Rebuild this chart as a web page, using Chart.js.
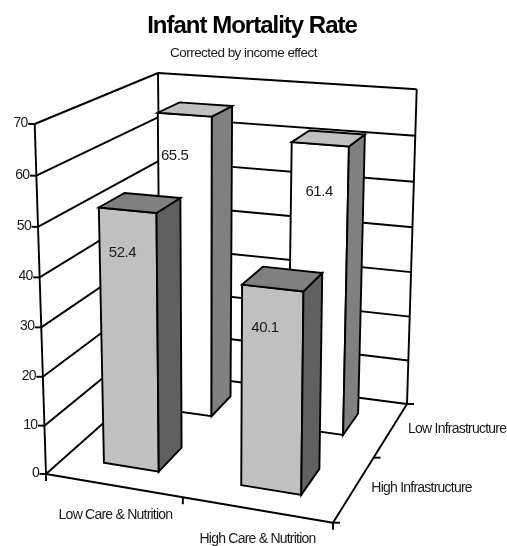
<!DOCTYPE html>
<html><head><meta charset="utf-8">
<style>html,body{margin:0;padding:0;background:#fff}canvas{display:block}</style>
<script src="https://cdn.jsdelivr.net/npm/chart.js@4"></script>
</head><body><canvas id="c" width="507" height="546"></canvas>
<script>
const careCategories = ['Low Care & Nutrition', 'High Care & Nutrition'];
const infraCategories = ['High Infrastructure', 'Low Infrastructure'];
const lowInfrastructure = [65.5, 61.4];
const highInfrastructure = [52.4, 40.1];
const titleText = 'Infant Mortality Rate';
const subtitleText = 'Corrected by income effect';

// view geometry of the 3-D box: floor and ceiling corners (front-left, front-right, back-right, back-left)
const floorCorners = [[46,474],[333,522.7],[407,404],[161,372]];
const ceilCorners  = [[34.7,124],[337.5,147],[416.7,89.3],[158,73]];
const PERSPECTIVE = 0.04;
const FONT = '"Liberation Sans", Arial, sans-serif';

function quad(p){
  const [[x0,y0],[x1,y1],[x2,y2],[x3,y3]] = p;
  const dx1=x1-x2,dx2=x3-x2,sx=x0-x1+x2-x3,dy1=y1-y2,dy2=y3-y2,sy=y0-y1+y2-y3;
  const den=dx1*dy2-dx2*dy1, g=(sx*dy2-dx2*sy)/den, h=(dx1*sy-sx*dy1)/den;
  const a=x1-x0+g*x1,b=x3-x0+h*x3,d=y1-y0+g*y1,e=y3-y0+h*y3;
  return (u,v)=>{const w=g*u+h*v+1;return [(a*u+b*v+x0)/w,(d*u+e*v+y0)/w];};
}
const floorAt=quad(floorCorners), ceilAt=quad(ceilCorners);
function project(u,v,t){
  const s=t/(1+PERSPECTIVE*(1-t)), A=floorAt(u,v), B=ceilAt(u,v);
  return [A[0]+(B[0]-A[0])*s, A[1]+(B[1]-A[1])*s];
}

const box3d = {
  id:'box3d',
  beforeDraw(chart){
    const style={[titleText]:{sp:'-1px',dx:-1.5,dy:1},[subtitleText]:{sp:'-0.55px',dx:-10,dy:1}};
    chart.boxes.forEach(b=>{
      const txt=b.options&&b.options.text;
      if(typeof txt==='string'&&style[txt]&&!b._spaced){
        const orig=b.draw, st=style[txt]; b._spaced=true;
        b.draw=function(...args){const c=chart.ctx;c.save();c.letterSpacing=st.sp;c.translate(st.dx,st.dy);orig.apply(this,args);c.restore();};
      }
    });
  },
  afterDatasetsDraw(chart){
    const ctx=chart.ctx, X=chart.scales.x, Y=chart.scales.y, Z=chart.scales.z;
    const T=v=>(Y.bottom-Y.getPixelForValue(v))/Y.height;
    const U=px=>(px-X.left)/X.width;
    const V=i=>(Z.getPixelForValue(i)-Z.left)/Z.width;
    const seg=(a,b)=>{ctx.beginPath();ctx.moveTo(a[0],a[1]);ctx.lineTo(b[0],b[1]);ctx.stroke();};
    const text=(s,x,y,align)=>{ctx.textAlign=align;ctx.fillText(s,x,y);};
    ctx.save();
    ctx.strokeStyle='#000';ctx.lineWidth=1.9;ctx.lineJoin='miter';ctx.lineCap='butt';

    // walls & grid
    const ticks=Y.ticks, top=T(ticks[ticks.length-1].value);
    ticks.forEach(tk=>{
      const t=T(tk.value);
      seg(project(0,0,t),project(0,1,t));
      seg(project(0,1,t),project(1,1,t));
    });
    seg(project(0,0,0),project(0,0,top));
    seg(project(0,1,0),project(0,1,top));
    seg(project(1,1,0),project(1,1,top));
    seg(project(0,0,0),project(1,0,0));
    seg(project(1,0,0),project(1,1,0));

    // axis ticks
    ticks.forEach(tk=>{const p=project(0,0,T(tk.value));seg([p[0]-6.5,p[1]],p);});
    [0,.5,1].forEach(u=>{const p=project(u,0,0);seg(p,[p[0],p[1]+7]);});
    [0,.5,1].forEach(v=>{const p=project(1,v,0);seg(p,[p[0]+7,p[1]]);});

    // axis labels
    ctx.fillStyle='#1a1a1a';ctx.textBaseline='middle';
    ctx.font='14px '+FONT;ctx.letterSpacing='-0.7px';
    ticks.forEach(tk=>{const p=project(0,0,T(tk.value));text(tk.label,p[0]-7,p[1]-1,'right');});
    ctx.letterSpacing='-0.77px';
    const careOffset=[[2.6,30],[1.4,29]];
    careCategories.forEach((c,i)=>{const p=project(U(X.getPixelForValue(i)),0,0);text(c,p[0]+careOffset[i][0],p[1]+careOffset[i][1],'center');});
    infraCategories.forEach((c,i)=>{const p=project(1,V(i),0);text(c,p[0]+17,p[1],'left');});

    // bars, back row first
    const valueNudge=[[[-10,41],[-1,48]],[[-5,43],[-7.5,40]]];
    chart.data.datasets.forEach((ds,di)=>{
      const meta=chart.getDatasetMeta(di), v=V(ds.zIndex);
      meta.data.forEach((el,i)=>{
        const half=el.width/2/X.width, uc=U(el.x), t=T(ds.data[i]);
        const u0=uc-half,u1=uc+half,v0=v-half,v1=v+half;
        const face=(pts,fill)=>{ctx.beginPath();pts.forEach((p,k)=>k?ctx.lineTo(p[0],p[1]):ctx.moveTo(p[0],p[1]));ctx.closePath();ctx.fillStyle=fill;ctx.fill();ctx.stroke();};
        face([project(u0,v0,0),project(u1,v0,0),project(u1,v0,t),project(u0,v0,t)],ds.faceFront);
        face([project(u1,v0,0),project(u1,v1,0),project(u1,v1,t),project(u1,v0,t)],ds.faceSide);
        face([project(u0,v0,t),project(u1,v0,t),project(u1,v1,t),project(u0,v1,t)],ds.faceTop);
        const c=project(uc,v0,t), n=valueNudge[di][i];
        ctx.fillStyle='#1a1a1a';ctx.font='15px '+FONT;ctx.letterSpacing='-0.45px';
        text(ds.data[i].toFixed(1),c[0]+n[0],c[1]+n[1],'center');
      });
    });
    ctx.restore();
  }
};

new Chart(document.getElementById('c'),{
  type:'bar',
  data:{labels:careCategories,datasets:[
    {label:infraCategories[1],data:lowInfrastructure,zIndex:1,grouped:false,barPercentage:.41,categoryPercentage:1,
     backgroundColor:'rgba(0,0,0,0)',borderWidth:0,faceFront:'#ffffff',faceSide:'#808080',faceTop:'#c0c0c0'},
    {label:infraCategories[0],data:highInfrastructure,zIndex:0,grouped:false,barPercentage:.41,categoryPercentage:1,
     backgroundColor:'rgba(0,0,0,0)',borderWidth:0,faceFront:'#c0c0c0',faceSide:'#606060',faceTop:'#808080'}
  ]},
  options:{
    responsive:false,animation:false,events:[],
    layout:{padding:{top:0,left:0,right:0,bottom:0}},
    scales:{
      x:{type:'category',display:false,offset:true},
      y:{type:'linear',display:false,min:0,max:70,ticks:{stepSize:10}},
      z:{type:'category',axis:'x',display:false,offset:true,labels:infraCategories}
    },
    plugins:{
      legend:{display:false},tooltip:{enabled:false},
      title:{display:true,text:titleText,color:'#000',font:{family:FONT,size:24,weight:'bold'},padding:{top:11,bottom:0}},
      subtitle:{display:true,text:subtitleText,color:'#1a1a1a',font:{family:FONT,size:13.5,weight:'normal'},padding:{top:4,bottom:0}}
    }
  },
  plugins:[box3d]
});
</script></body></html>
